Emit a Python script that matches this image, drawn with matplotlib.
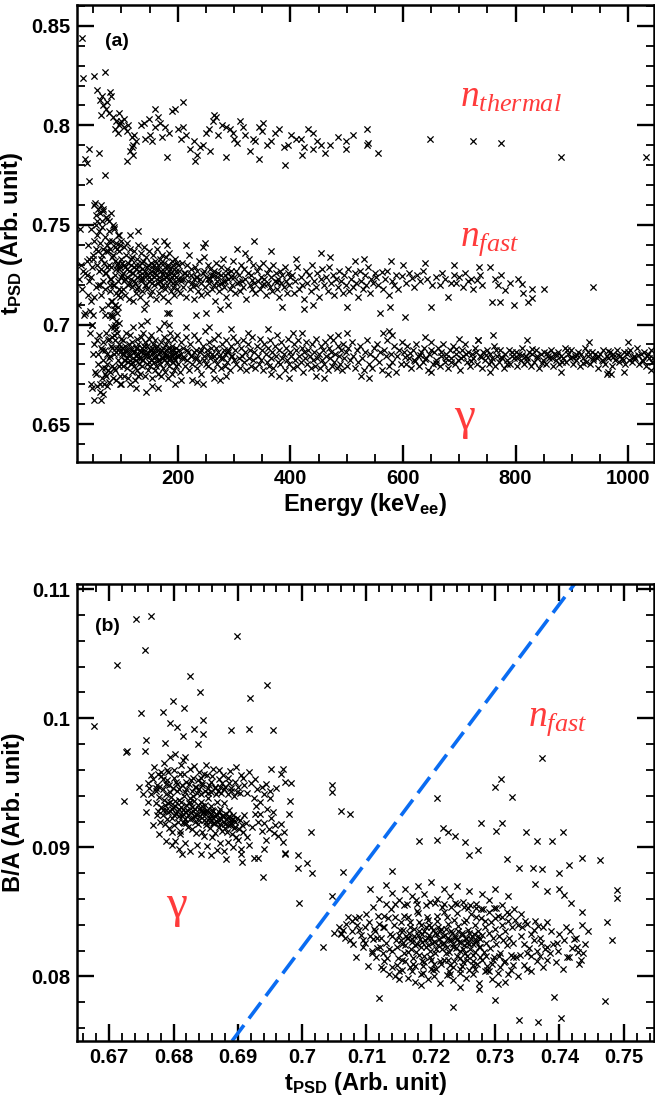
import numpy as np
import matplotlib
matplotlib.use("Agg")
import matplotlib.pyplot as plt
from matplotlib.ticker import MultipleLocator, FuncFormatter

# ---------------- panel (a): energy [keV], tPSD [1e-4] ----------------
thermal = [
    (30,8440),(32,8240),(51,8250),(71,8270),(42,7720),(71,7750),(42,7880),(60,7860),(36,7830),(38,7810),
    (57,8180),(66,8150),(80,8170),(62,8130),(75,8120),(68,8100),(72,8080),(78,8060),(85,8040),(90,8020),
    (64,8050),(82,8150),(88,7980),(95,8000),(98,8010),(100,8020),(93,7960),(104,7990),(109,7970),(112,8000),
    (105,8030),(96,8060),(118,7940),(122,7950),(115,7870),(120,7900),(125,7920),(110,7820),(121,7850),(119,7890),
    (135,8000),(140,8010),(148,8030),(142,7930),(150,7950),(155,7920),(160,7990),(165,8040),(168,8010),(172,7940),
    (178,7990),(185,7960),(190,8070),(195,8080),(200,7980),(205,7930),(210,7990),(215,7950),(222,7880),(228,7920),
    (235,7850),(240,7890),(245,7900),(250,7960),(255,7980),(262,8020),(268,8040),(272,7950),(278,8000),(285,7990),
    (292,7980),(298,7960),(180,7840),(230,7820),(258,7870),(300,7930),(305,7910),(160,8080),(210,8120),(265,8050),
    (310,8020),(315,7990),(320,7950),(328,7870),(333,7930),(338,7920),(345,7990),(352,8010),(358,7900),(365,7920),
    (372,7960),(380,7980),(388,7890),(395,7900),(402,7950),(410,7930),(418,7930),(425,7890),(432,7980),(440,7880),
    (448,7920),(455,7900),(462,7860),(470,7900),(345,7830),(390,7800),(420,7850),(350,7970),(285,7840),(440,7960),
    (499,7920),(499,7880),(536,7980),(536,7900),(538,7910),(555,7860),(648,7930),(724,7920),(774,7910),(880,7840),
    (1031,7840),(512,7950),(485,7940),
]

fast = [
    (22,7100),(25,7230),(28,7300),(30,7180),(33,7050),(35,7260),(38,7320),(40,7150),(41,7400),(43,7220),
    (44,7070),(46,7480),(47,7290),(49,7350),(50,7050),(51,7600),(52,7420),(53,7610),(54,7190),(55,7550),
    (56,7300),(57,7450),(58,7580),(59,7370),(60,7270),(45,7120),(48,7000),(52,7140),(55,7380),(58,7200),
    (36,7060),(42,7330),(39,7250),(27,7480),(31,7270),(54,7500),(57,7520),(60,7470),(46,7240),(50,7330),
    (61,7560),(62,7410),(63,7280),(64,7150),(65,7350),(66,7490),(67,7220),(68,7570),(69,7310),(70,7440),
    (71,7180),(72,7370),(73,7260),(74,7530),(75,7400),(76,7100),(77,7300),(78,7470),(79,7230),(80,7380),
    (81,7560),(82,7290),(83,7120),(84,7420),(85,7350),(86,7200),(87,7490),(88,7320),(89,7250),(90,7410),
    (91,7160),(92,7300),(93,7450),(94,7220),(95,7370),(96,7280),(97,7140),(98,7400),(99,7330),(100,7240),
    (62,7200),(65,7520),(68,7380),(71,7050),(74,7290),(77,7420),(80,7200),(83,7340),(86,7480),(89,7100),
    (92,7380),(95,7180),(98,7290),(64,7330),(70,7260),(76,7370),(82,7230),(88,7390),(94,7310),(100,7420),
    (63,7600),(67,7580),(72,7540),(78,7520),(85,7500),(90,7280),(96,7450),(99,7170),(66,7080),(84,7050),
    (101,7310),(102,7180),(103,7260),(104,7390),(105,7220),(106,7290),(107,7150),(108,7350),(109,7240),(110,7410),
    (111,7200),(112,7310),(113,7270),(114,7130),(115,7380),(116,7230),(117,7300),(118,7190),(119,7340),(120,7260),
    (121,7120),(122,7290),(123,7370),(124,7210),(125,7280),(126,7160),(127,7330),(128,7240),(129,7400),(130,7190),
    (131,7300),(132,7250),(133,7140),(134,7360),(135,7220),(136,7280),(137,7170),(138,7320),(139,7230),(140,7390),
    (141,7200),(142,7270),(143,7110),(144,7340),(145,7250),(146,7180),(147,7300),(148,7220),(149,7370),(150,7260),
    (151,7150),(152,7310),(153,7230),(154,7290),(155,7170),(156,7350),(157,7240),(158,7200),(159,7320),(160,7260),
    (161,7130),(162,7280),(163,7380),(164,7210),(165,7300),(166,7240),(167,7160),(168,7330),(169,7220),(170,7270),
    (171,7190),(172,7350),(173,7250),(174,7140),(175,7310),(176,7230),(177,7290),(178,7180),(179,7340),(180,7250),
    (181,7200),(182,7300),(183,7120),(184,7270),(185,7360),(186,7220),(187,7280),(188,7170),(189,7320),(190,7240),
    (191,7190),(192,7300),(193,7250),(194,7150),(195,7330),(196,7210),(197,7270),(198,7180),(199,7310),(200,7230),
    (115,7450),(140,7080),(160,7420),(185,7060),(130,7470),(175,7420),(180,7400),(248,7410),(181,7060),(232,7050),
    (202,7270),(204,7160),(206,7230),(208,7310),(210,7190),(212,7260),(214,7140),(216,7300),(218,7220),(220,7350),
    (222,7180),(224,7250),(226,7210),(228,7130),(230,7290),(232,7200),(234,7270),(236,7170),(238,7320),(240,7230),
    (242,7150),(244,7260),(246,7340),(248,7190),(250,7240),(252,7160),(254,7300),(256,7210),(258,7280),(260,7180),
    (262,7250),(264,7200),(266,7120),(268,7310),(270,7220),(272,7260),(274,7170),(276,7290),(278,7210),(280,7330),
    (282,7190),(284,7250),(286,7140),(288,7280),(290,7230),(292,7180),(294,7270),(296,7200),(298,7320),(300,7240),
    (302,7160),(304,7270),(306,7210),(308,7250),(310,7170),(312,7300),(314,7220),(316,7190),(318,7280),(320,7230),
    (322,7130),(324,7260),(326,7330),(328,7200),(330,7250),(332,7180),(334,7300),(336,7210),(338,7160),(340,7270),
    (342,7220),(344,7290),(346,7180),(348,7240),(350,7200),(352,7310),(354,7230),(356,7150),(358,7260),(360,7210),
    (362,7280),(364,7190),(366,7240),(368,7170),(370,7300),(372,7220),(374,7260),(376,7180),(378,7230),(380,7140),
    (382,7270),(384,7210),(386,7250),(388,7190),(390,7290),(392,7220),(394,7160),(396,7260),(398,7200),(400,7240),
    (215,7400),(245,7390),(275,7080),(305,7380),(335,7420),(250,7060),(365,7370),(290,7100),(320,7360),(385,7090),
    (210,7230),(233,7240),(257,7230),(281,7220),(309,7215),(331,7225),(353,7205),(377,7215),(227,7195),(269,7240),
    (403,7250),(406,7160),(409,7220),(412,7290),(415,7180),(418,7240),(421,7200),(424,7130),(427,7270),(430,7210),
    (433,7250),(436,7170),(439,7300),(442,7220),(445,7190),(448,7260),(451,7140),(454,7230),(457,7280),(460,7200),
    (463,7240),(466,7170),(469,7290),(472,7210),(475,7250),(478,7150),(481,7230),(484,7190),(487,7270),(490,7220),
    (493,7160),(496,7250),(499,7200),(502,7280),(505,7170),(508,7230),(511,7190),(514,7260),(517,7210),(520,7140),
    (523,7270),(526,7220),(529,7180),(532,7250),(535,7200),(538,7290),(541,7160),(544,7230),(547,7210),(550,7260),
    (410,7330),(440,7100),(470,7340),(500,7090),(530,7330),(455,7360),(425,7080),(515,7320),
    (553,7240),(556,7200),(560,7056),(562,7263),(565,7180),(568,7230),(572,7270),(575,7150),(577,7087),(580,7220),
    (584,7200),(588,7250),(592,7180),(598,7243),(603,7036),(606,7210),(610,7260),(616,7233),(620,7190),(625,7250),
    (630,7220),(636,7270),(642,7230),(649,7087),(652,7200),(658,7240),(665,7197),(670,7260),(675,7230),(680,7137),
    (686,7210),(690,7250),(695,7207),(700,7240),(706,7190),(710,7260),(715,7217),(720,7230),(725,7180),(731,7222),
    (736,7250),(741,7200),(754,7288),(758,7112),(763,7230),(768,7200),(772,7112),(775,7250),(781,7172),(790,7210),
    (797,7100),(805,7230),(811,7202),(813,7157),(823,7112),(829,7180),(830,7132),(850,7180),(937,7187),(600,7300),
    (640,7310),(690,7300),(735,7290),(578,7320),
    (101,7250),(104,7300),(107,7230),(110,7280),(113,7210),(116,7330),(119,7260),(122,7220),(125,7300),(128,7180),
    (131,7270),(134,7230),(137,7310),(140,7250),(143,7200),(146,7290),(149,7240),(152,7270),(155,7210),(158,7300),
    (161,7250),(164,7280),(167,7220),(170,7310),(173,7200),(176,7270),(179,7240),(182,7290),(185,7230),(188,7260),
    (191,7210),(194,7280),(197,7240),(200,7300),(205,7220),(211,7260),(217,7250),(223,7280),(229,7230),(235,7240),
    (241,7210),(247,7270),(253,7230),(259,7250),(265,7270),(271,7200),(277,7250),(283,7220),(289,7260),(295,7240),
]

gamma_a = [
    (44,6960),(45,6700),(47,7000),(48,6680),(50,6850),(51,6620),(52,6900),(53,6760),(55,6750),(56,6920),
    (57,6690),(58,6850),(59,6800),(60,6950),(62,6700),(63,6880),(64,6620),(65,6780),(66,6730),(67,6910),
    (68,6820),(69,6700),(70,6870),(71,6780),(72,6960),(73,6740),(74,6850),(75,6800),(76,6920),(77,6710),
    (78,6830),(79,7050),(80,6760),(81,6890),(82,7120),(83,6790),(84,6940),(85,6730),(86,7080),(87,6850),
    (88,6770),(89,7000),(90,6880),(91,6720),(92,6960),(93,6820),(94,7150),(95,6790),(96,6900),(97,6740),
    (98,6860),(99,6800),(100,6930),(82,6990),(84,7040),(86,6990),(88,7100),(90,7020),(92,7060),(80,7170),
    (85,7200),(87,6950),(89,6920),(91,6980),(93,7090),(95,7010),(97,6700),(74,6690),(66,6870),(70,6750),
    (76,6770),(78,6930),(80,6840),(83,6880),(87,6780),(91,6860),(95,6880),(99,6700),(61,6660),(68,6650),
    (101,6880),(102,6790),(103,6920),(104,6850),(105,6740),(106,6890),(107,6820),(108,6960),(109,6780),(110,6870),
    (111,6810),(112,6730),(113,6900),(114,6840),(115,6950),(116,6800),(117,6870),(118,6760),(119,6910),(120,6830),
    (121,6990),(122,6790),(123,6860),(124,6720),(125,6880),(126,6820),(127,6930),(128,6770),(129,6850),(130,6900),
    (131,6800),(132,6870),(133,6750),(134,6940),(135,6830),(136,6880),(137,6790),(138,6960),(139,6820),(140,6860),
    (141,6740),(142,6910),(143,6660),(144,6850),(145,6800),(146,6890),(147,6770),(148,6930),(149,6840),(150,6870),
    (151,6790),(152,6950),(153,6820),(154,6880),(155,6730),(156,6900),(157,6810),(158,6860),(159,6770),(160,6920),
    (161,6840),(162,6790),(163,6890),(164,6750),(165,6870),(166,6820),(167,6980),(168,6800),(169,6860),(170,6740),
    (171,6910),(172,6830),(173,6880),(174,6780),(175,6940),(176,6820),(177,6850),(178,6760),(179,6900),(180,6810),
    (181,6870),(182,6730),(183,6920),(184,6840),(185,6790),(186,6960),(187,6830),(188,6870),(189,6750),(190,6890),
    (191,6810),(192,6850),(193,6770),(194,6930),(195,6820),(196,6880),(197,6790),(198,6950),(199,6840),(200,6800),
    (202,6870),(204,6760),(206,6910),(208,6830),(210,6880),(212,6790),(214,6940),(216,6820),(218,6860),(220,6770),
    (222,6900),(224,6840),(226,6800),(228,6950),(230,6830),(232,6870),(234,6780),(236,6920),(238,6810),(240,6860),
    (242,6750),(244,6890),(246,6840),(248,6970),(250,6800),(252,6870),(254,6790),(256,6910),(258,6830),(260,6850),
    (262,6770),(264,6930),(266,6820),(268,6880),(270,6800),(272,6950),(274,6840),(276,6780),(278,6900),(280,6830),
    (282,6870),(284,6790),(286,6920),(288,6810),(290,6860),(292,6770),(294,6890),(296,6840),(298,6940),(300,6820),
    (115,6700),(135,7000),(155,6690),(175,7010),(195,6700),(215,6990),(235,6710),(255,6990),(275,6720),(295,6980),
    (125,6680),(145,7020),(165,6680),(185,7000),(205,6720),(225,6720),(245,6700),(265,6730),(285,6740),(130,6740),
    (101,6850),(104,6820),(107,6870),(110,6830),(113,6850),(116,6880),(119,6810),(122,6860),(125,6840),(128,6880),
    (131,6830),(134,6860),(137,6820),(140,6890),(143,6840),(146,6860),(149,6810),(152,6870),(155,6850),(158,6830),
    (161,6880),(164,6820),(167,6850),(170,6870),(173,6830),(176,6860),(179,6840),(182,6880),(185,6820),(188,6850),
    (191,6870),(194,6830),(197,6860),(200,6840),(205,6850),(211,6830),(217,6870),(223,6840),(229,6860),(235,6830),
    (241,6870),(247,6820),(253,6850),(259,6880),(265,6840),(271,6860),(277,6830),(283,6850),(289,6870),(295,6840),
    (302,6870),(304,6800),(306,6910),(308,6830),(310,6780),(312,6880),(314,6840),(316,6920),(318,6810),(320,6860),
    (322,6770),(324,6900),(326,6830),(328,6870),(330,6790),(332,6940),(334,6820),(336,6860),(338,6780),(340,6890),
    (342,6840),(344,6800),(346,6930),(348,6820),(350,6870),(352,6770),(354,6900),(356,6850),(358,6810),(360,6880),
    (362,6790),(364,6920),(366,6830),(368,6860),(370,6780),(372,6890),(374,6840),(376,6950),(378,6810),(380,6870),
    (382,6800),(384,6910),(386,6830),(388,6850),(390,6770),(392,6880),(394,6820),(396,6930),(398,6800),(400,6860),
    (402,6840),(404,6780),(406,6900),(408,6820),(410,6870),(412,6790),(414,6920),(416,6840),(418,6810),(420,6880),
    (422,6760),(424,6860),(426,6830),(428,6910),(430,6800),(432,6870),(434,6840),(436,6780),(438,6900),(440,6820),
    (442,6860),(444,6790),(446,6930),(448,6830),(450,6850),(452,6780),(454,6890),(456,6820),(458,6870),(460,6800),
    (462,6910),(464,6840),(466,6770),(468,6880),(470,6830),(472,6860),(474,6790),(476,6920),(478,6810),(480,6850),
    (482,6780),(484,6890),(486,6840),(488,6800),(490,6870),(492,6770),(494,6900),(496,6830),(498,6860),(500,6790),
    (503,6880),(506,6820),(509,6910),(512,6840),(515,6780),(518,6870),(521,6810),(524,6890),(527,6830),(530,6770),
    (533,6860),(536,6920),(539,6800),(542,6850),(545,6780),(548,6880),(551,6830),(554,6900),(557,6810),(560,6860),
    (563,6770),(566,6870),(569,6840),(572,6920),(575,6790),(578,6850),(581,6810),(584,6890),(587,6760),(590,6840),
    (593,6870),(596,6800),(599,6910),(325,6960),(365,6750),(405,6960),(445,6740),(485,6950),(525,6740),(565,6960),
    (380,6740),(420,6960),(460,6730),(500,6960),(540,6730),(580,6950),(470,6940),(360,6980),(397,6730),(575,6970),
    (602,6860),(605,6800),(608,6890),(611,6830),(614,6780),(617,6870),(620,6820),(623,6900),(626,6840),(629,6790),
    (632,6860),(635,6810),(638,6880),(641,6830),(644,6770),(647,6850),(650,6910),(653,6800),(656,6860),(659,6820),
    (662,6880),(665,6790),(668,6840),(671,6900),(674,6810),(677,6850),(680,6780),(683,6870),(686,6830),(689,6890),
    (692,6800),(695,6850),(698,6820),(701,6770),(704,6870),(707,6840),(710,6900),(713,6810),(716,6860),(719,6790),
    (722,6850),(725,6830),(728,6880),(731,6800),(734,6920),(737,6840),(740,6780),(743,6860),(746,6820),(749,6870),
    (752,6800),(755,6850),(758,6830),(761,6890),(764,6790),(767,6840),(770,6810),(773,6870),(776,6830),(779,6780),
    (782,6850),(785,6820),(788,6870),(791,6800),(794,6840),(797,6830),(800,6860),(803,6790),(806,6850),(809,6820),
    (812,6880),(815,6800),(818,6840),(821,6830),(824,6860),(827,6790),(830,6850),(833,6810),(836,6870),(839,6830),
    (842,6780),(845,6850),(848,6820),(851,6860),(854,6800),(857,6840),(860,6830),(863,6870),(866,6790),(869,6850),
    (872,6820),(875,6860),(878,6800),(881,6840),(884,6830),(887,6880),(890,6810),(893,6850),(896,6830),(899,6870),
    (902,6800),(905,6840),(908,6820),(911,6860),(914,6790),(917,6850),(920,6830),(923,6880),(926,6810),(929,6840),
    (932,6800),(935,6860),(938,6820),(941,6850),(944,6830),(947,6780),(950,6850),(953,6820),(956,6870),(959,6800),
    (962,6840),(965,6830),(968,6860),(971,6790),(974,6850),(977,6820),(980,6870),(983,6810),(986,6840),(989,6830),
    (992,6860),(995,6800),(998,6850),(1001,6820),(1004,6870),(1007,6810),(1010,6840),(1013,6830),(1016,6880),(1019,6800),
    (1022,6850),(1025,6820),(1028,6860),(1031,6790),(1034,6840),(1037,6830),(1040,6870),(1043,6810),
    (604,6835),(613,6855),(622,6815),(631,6845),(640,6825),(649,6870),(658,6805),(667,6860),(676,6830),(685,6810),
    (694,6875),(703,6830),(712,6850),(721,6815),(730,6860),(739,6835),(748,6845),(757,6815),(766,6870),(775,6835),
    (784,6800),(793,6860),(802,6830),(811,6845),(820,6815),(829,6875),(838,6840),(847,6805),(856,6855),(865,6830),
    (874,6845),(883,6810),(892,6870),(901,6835),(910,6845),(919,6805),(928,6860),(937,6830),(946,6840),(955,6815),
    (964,6865),(973,6835),(982,6845),(991,6820),(1000,6860),(1009,6830),(1018,6845),(1027,6815),(1036,6850),(1045,6830),
    (733,6920),(573,6750),(650,6760),(700,6930),(755,6760),(820,6920),(880,6760),(930,6910),(965,6760),(1000,6910),
    (970,6750),(1040,6770),(760,6950),(640,6940),(963,6754),(992,6760),
]

# ---------------- panel (b): tPSD [1e-4], B/A [1e-5] ----------------
gamma_b = [
    (6742,10770),(6765,10790),(6756,10530),(6712,10410),(6898,10640),(6826,10330),(6841,10200),(6945,10260),
    (6919,10160),(6677,9940),(6750,10040),(6784,10050),(6799,10130),(6816,10080),(6726,9740),(6757,9830),
    (6889,9910),(6917,9920),(6954,9910),(6723,9360),(6728,9750),(6755,9750),(6747,9470),(6795,9960),(6805,9930),
    (6787,9810),(6815,9860),(6838,9800),(6846,9990),(6846,9880),(6818,9700),(6832,9920),
    (6951,9610),(6970,9610),(6967,9570),(6974,9510),(6982,9500),(6959,9460),(6981,9360),(6979,9260),(6967,9180),
    (6971,9120),(7013,9120),(6956,9110),(6970,9040),(6973,8960),(6813,8950),(6881,8910),(6906,8890),(6925,8920),
    (6932,8920),(6940,8990),(6905,8950),(6867,8980),(6939,8770),
    (6781,9310),(6783,9250),(6785,9370),(6786,9180),(6788,9290),(6789,9410),(6790,9220),(6792,9340),(6793,9150),(6795,9280),
    (6796,9390),(6798,9230),(6799,9310),(6801,9170),(6802,9360),(6804,9260),(6805,9440),(6807,9200),(6808,9300),(6810,9130),
    (6811,9350),(6813,9240),(6814,9290),(6816,9190),(6817,9400),(6819,9270),(6820,9330),(6822,9160),(6823,9250),(6825,9380),
    (6826,9220),(6828,9310),(6829,9140),(6831,9280),(6832,9360),(6834,9200),(6835,9260),(6837,9420),(6838,9180),(6840,9300),
    (6841,9240),(6843,9350),(6844,9120),(6846,9270),(6847,9210),(6849,9330),(6850,9170),(6852,9290),(6853,9380),(6855,9230),
    (6856,9150),(6858,9260),(6859,9320),(6861,9190),(6862,9280),(6864,9110),(6865,9240),(6867,9350),(6868,9200),(6870,9270),
    (6871,9160),(6873,9300),(6874,9220),(6876,9130),(6877,9250),(6879,9340),(6880,9180),(6882,9260),(6883,9120),(6885,9230),
    (6886,9290),(6888,9170),(6889,9210),(6891,9100),(6892,9250),(6894,9150),(6895,9200),(6897,9080),(6899,9230),(6902,9140),
    (6784,9290),(6787,9330),(6791,9270),(6794,9350),(6797,9300),(6800,9250),(6803,9320),(6806,9280),(6809,9240),(6812,9310),
    (6815,9260),(6818,9220),(6821,9290),(6824,9340),(6827,9270),(6830,9230),(6833,9300),(6836,9250),(6839,9210),(6842,9280),
    (6845,9320),(6848,9240),(6851,9200),(6854,9270),(6857,9230),(6860,9290),(6863,9190),(6866,9260),(6869,9220),(6872,9180),
    (6875,9240),(6878,9200),(6881,9220),(6884,9170),(6887,9240),(6890,9190),(6893,9220),(6896,9160),(6814,9200),(6826,9350),
    (6838,9330),(6850,9270),(6862,9230),(6808,9370),(6820,9190),(6832,9240),(6844,9290),(6856,9200),(6868,9250),(6880,9150),
    (6818,9430),(6830,9400),(6842,9410),(6854,9420),(6866,9410),(6798,9120),(6810,9100),(6835,9110),(6848,9090),(6860,9080),
    (6776,9280),(6772,9340),(6779,9200),(6774,9250),(6777,9390),(6904,9210),(6907,9170),(6910,9250),(6908,9120),(6912,9190),
    (6772,9440),(6778,9470),(6784,9450),(6789,9490),(6794,9430),(6799,9460),(6804,9510),(6809,9450),(6813,9480),(6819,9450),
    (6824,9490),(6829,9440),(6833,9470),(6839,9450),(6844,9480),(6849,9440),(6854,9460),(6859,9430),(6864,9470),(6869,9440),
    (6874,9420),(6879,9450),(6884,9410),(6889,9440),(6894,9400),(6899,9430),(6781,9550),(6792,9580),(6801,9540),(6817,9570),
    (6827,9520),(6843,9540),(6858,9510),(6873,9470),(6887,9500),(6903,9420),
    (6760,9500),(6765,9560),(6770,9620),(6775,9480),(6780,9580),(6785,9650),(6790,9520),(6795,9700),(6800,9600),(6805,9490),
    (6810,9570),(6815,9680),(6820,9510),(6825,9610),(6830,9540),(6835,9470),(6840,9580),(6845,9500),(6850,9640),(6855,9480),
    (6860,9550),(6865,9460),(6870,9600),(6875,9500),(6880,9470),(6885,9540),(6890,9460),(6895,9510),(6900,9470),(6905,9560),
    (6910,9480),(6915,9420),(6920,9500),(6925,9380),(6930,9450),(6935,9350),(6940,9410),(6945,9300),(6950,9380),(6955,9270),
    (6760,9350),(6765,9410),(6768,9170),(6773,9460),(6778,9100),(6783,9530),(6788,9050),(6793,9480),(6797,9020),(6803,9050),
    (6808,8990),(6818,9030),(6825,8970),(6836,9020),(6843,8950),(6852,9010),(6858,8940),(6872,9030),(6878,8970),(6885,9040),
    (6893,9000),(6900,9060),(6905,8990),(6915,9080),(6918,9020),(6922,9160),(6926,9260),(6932,9200),(6938,9130),(6944,9060),
    (6928,9320),(6934,9260),(6941,9190),(6948,9140),(6952,9230),(6957,9170),(6962,9090),(6790,9600),(6812,9640),(6832,9630),
    (6852,9560),(6870,9530),(6888,9590),(6908,9540),(6753,9410),(6758,9270),(6762,9460),(6768,9530),(6776,9570),(6803,9720),
    (6838,9520),(6848,9570),(6862,9610),(6877,9560),(6897,9620),(6918,9580),(6927,9530),(6937,9470),(6944,9490),(6950,9440),
    (6993,8840),(7007,8880),(7016,8800),(6974,8950),(6993,8940),(6995,8570),(7032,8230),
]

fast_b = [
    (7046,9480),(7046,9430),(7061,9280),(7075,9260),(7064,8810),(7046,8620),(7050,8340),(7060,8330),(7063,8360),
    (7078,8350),(7078,8430),(7089,8460),(7094,8280),(7102,8080),(7119,7830),(7108,8180),(7123,8070),(7105,8680),
    (7131,8710),(7140,8820),(7150,8040),(7150,7980),(7182,9050),(7210,9380),(7210,9060),(7219,9150),(7226,9120),
    (7238,9090),(7253,9040),(7260,8940),(7274,8980),(7278,9190),(7301,9130),(7311,9190),(7300,9470),(7309,9530),
    (7326,9390),(7348,9120),(7365,9050),(7388,9050),(7405,9120),(7319,8910),(7337,8840),(7359,8840),(7373,8830),
    (7399,8800),(7415,8860),(7435,8920),(7463,8900),(7362,8720),(7380,8660),(7400,8680),(7407,8630),(7418,8570),
    (7435,8500),(7435,8400),(7474,8420),(7481,8280),(7489,8670),(7489,8610),(7422,8290),(7412,8150),(7429,8190),
    (7433,8130),(7396,8260),(7380,8130),(7391,7840),(7402,7680),(7471,7810),(7337,7660),(7367,7650),(7300,7820),
    (7235,7760),(7373,9690),
    (7110,8290),(7113,8350),(7116,8220),(7119,8410),(7122,8300),(7125,8180),(7128,8380),(7131,8260),(7134,8450),(7137,8330),
    (7140,8200),(7143,8400),(7146,8280),(7149,8140),(7152,8360),(7155,8250),(7158,8470),(7161,8310),(7164,8190),(7167,8420),
    (7170,8290),(7172,8100),(7174,8370),(7176,8240),(7178,8510),(7180,8320),(7182,8170),(7184,8400),(7186,8270),(7188,8080),
    (7190,8350),(7192,8230),(7194,8460),(7196,8300),(7198,8150),(7200,8380),(7202,8260),(7204,8050),(7206,8340),(7208,8210),
    (7210,8430),(7212,8290),(7214,8120),(7216,8370),(7218,8250),(7220,8500),(7222,8320),(7224,8180),(7226,8410),(7228,8280),
    (7230,8090),(7232,8350),(7234,8230),(7236,8440),(7238,8300),(7240,8160),(7242,8390),(7244,8270),(7246,8060),(7248,8340),
    (7250,8210),(7252,8420),(7254,8290),(7256,8130),(7258,8360),(7260,8250),(7262,8480),(7264,8310),(7266,8170),(7268,8400),
    (7270,8280),(7272,8100),(7274,8350),(7276,8230),(7278,8450),(7280,8320),(7282,8190),(7284,8380),(7286,8260),(7288,8080),
    (7290,8340),(7292,8220),(7294,8420),(7296,8300),(7298,8150),(7300,8370),(7302,8250),(7304,8470),(7306,8310),(7308,8180),
    (7310,8400),(7312,8280),(7314,8110),(7316,8350),(7318,8240),(7320,8430),(7322,8300),(7324,8170),(7326,8380),(7328,8260),
    (7150,8320),(7153,8280),(7157,8360),(7160,8240),(7163,8300),(7166,8340),(7169,8210),(7171,8270),(7174,8310),(7177,8190),
    (7179,8250),(7181,8350),(7183,8290),(7185,8230),(7187,8330),(7189,8160),(7191,8280),(7193,8380),(7195,8240),(7197,8320),
    (7199,8200),(7201,8300),(7203,8360),(7205,8270),(7207,8180),(7209,8330),(7211,8240),(7213,8290),(7215,8350),(7217,8210),
    (7219,8310),(7221,8260),(7223,8370),(7225,8230),(7227,8300),(7229,8190),(7231,8280),(7233,8340),(7235,8250),(7237,8310),
    (7239,8220),(7241,8290),(7243,8350),(7245,8200),(7247,8270),(7249,8320),(7251,8240),(7253,8180),(7255,8300),(7257,8260),
    (7259,8340),(7261,8210),(7263,8290),(7265,8250),(7267,8330),(7269,8190),(7271,8270),(7273,8310),(7275,8230),(7277,8290),
    (7160,8120),(7175,8080),(7190,8110),(7205,8100),(7220,8130),(7235,8070),(7250,8110),(7265,8090),(7280,8130),(7295,8100),
    (7165,8460),(7180,8490),(7195,8440),(7210,8470),(7225,8460),(7240,8490),(7255,8440),(7270,8460),(7285,8430),(7300,8450),
    (7060,8340),(7068,8410),(7075,8280),(7082,8450),(7088,8360),(7094,8230),(7100,8480),(7105,8310),(7110,8540),(7115,8150),
    (7120,8600),(7125,8060),(7130,8560),(7135,8020),(7140,8650),(7145,8000),(7150,8590),(7155,8050),(7160,8680),(7165,7990),
    (7170,8620),(7175,7960),(7180,8700),(7185,8020),(7190,8640),(7195,7980),(7200,8730),(7205,8000),(7210,8600),(7215,7950),
    (7220,8680),(7225,8010),(7230,8620),(7235,7970),(7240,8700),(7245,8030),(7250,8580),(7255,7990),(7260,8660),(7265,8020),
    (7270,8560),(7275,7950),(7280,8640),(7285,8040),(7290,8590),(7295,7980),(7300,8680),(7305,8030),(7310,8550),(7315,7960),
    (7320,8620),(7325,8050),(7330,8520),(7335,8000),(7340,8480),(7345,8090),(7350,8410),(7355,8040),(7360,8360),(7365,8120),
    (7370,8300),(7375,8070),(7380,8420),(7385,8180),(7390,8250),(7395,8110),(7400,8330),(7405,8060),(7410,8380),(7415,8150),
    (7420,8220),(7425,8300),(7430,8100),(7440,8250),(7445,8350),(7335,8400),(7345,8250),(7355,8330),(7365,8200),(7375,8380),
    (7340,8310),(7350,8180),(7360,8280),(7370,8160),(7380,8230),(7332,8150),(7342,8380),(7352,8220),(7362,8430),(7372,8260),
    (7083,8150),(7097,8380),(7108,8200),(7118,8470),(7128,8120),(7138,8520),(7148,8090),(7158,8550),(7168,8070),(7178,8560),
    (7188,8030),(7198,8580),(7208,8060),(7218,8540),(7228,8040),(7238,8570),(7248,8080),(7258,8530),(7268,8060),(7278,8520),
    (7288,8050),(7298,8530),(7308,8070),(7318,8500),(7328,8090),(7125,8380),(7135,8210),(7145,8460),(7155,8130),(7165,8300),
    (7058,8380),(7066,8300),(7072,8460),(7079,8250),(7086,8400),(7092,8320),(7098,8260),(7104,8420),(7112,8370),(7117,8300),
    (7121,8230),(7127,8470),(7132,8140),(7139,8310),(7144,8560),(7148,8230),(7154,8420),(7159,8180),(7163,8560),(7168,8380),
    (7173,8140),(7177,8590),(7182,8420),(7186,8120),(7192,8550),(7197,8400),(7201,8130),(7206,8570),(7211,8380),(7216,8100),
    (7221,8560),(7226,8130),(7231,8540),(7236,8120),(7241,8560),(7246,8140),(7251,8540),(7256,8160),(7261,8550),(7266,8120),
    (7271,8530),(7276,8150),(7281,8520),(7286,8160),(7291,8500),(7296,8130),(7301,8530),(7306,8160),(7311,8460),(7316,8120),
    (7321,8480),(7327,8150),(7331,8440),(7338,8170),(7346,8430),(7356,8160),(7366,8390),(7377,8210),(7387,8350),(7397,8200),
    (7407,8280),(7417,8350),(7427,8230),(7437,8180),
    (7140,8070),(7170,8040),(7200,8060),(7230,8020),(7260,8050),(7290,8040),(7320,8020),(7350,8060),(7185,7930),(7245,7920),
    (7305,7940),(7275,7900),
]

# separation cut in panel (b)
cut_x = [0.6891, 0.7425]
cut_y = [0.0750, 0.1105]

RED = "#ff3b3b"
BLUE = "#0a6cf2"

plt.rcParams["font.family"] = ["Liberation Sans", "DejaVu Sans"]
plt.rcParams["font.weight"] = "bold"
plt.rcParams["mathtext.fontset"] = "custom"
plt.rcParams["mathtext.it"] = "Liberation Serif:style=italic:weight=normal"
plt.rcParams["mathtext.rm"] = "Liberation Sans:weight=bold"
plt.rcParams["mathtext.bf"] = "Liberation Sans:weight=bold"


def xy(points, sx, sy):
    a = np.array(points, dtype=float)
    return a[:, 0] * sx, a[:, 1] * sy


def style_axes(ax):
    for sp in ax.spines.values():
        sp.set_linewidth(1.8)
    ax.tick_params(which="both", direction="in", top=True, right=True,
                   labelsize=14.5, pad=5)
    ax.tick_params(which="major", length=12, width=1.7)
    ax.tick_params(which="minor", length=6, width=1.3)
    fmt = FuncFormatter(lambda v, p: "%g" % round(v, 4))
    ax.xaxis.set_major_formatter(fmt)
    ax.yaxis.set_major_formatter(fmt)


fig = plt.figure(figsize=(6.55, 10.95), dpi=100)
ax1 = fig.add_axes([0.1176, 0.5781, 0.8809, 0.4174])
ax2 = fig.add_axes([0.1176, 0.0493, 0.8809, 0.4174])

mk = dict(marker="x", s=20, color="black", linewidths=0.9)

# panel (a)
for pts in (thermal, fast, gamma_a):
    ex, ey = xy(pts, 1.0, 1e-4)
    ax1.scatter(ex, ey, **mk)
ax1.set_xlim(21, 1046)
ax1.set_ylim(0.631, 0.8605)
ax1.xaxis.set_major_locator(MultipleLocator(200))
ax1.xaxis.set_minor_locator(MultipleLocator(50))
ax1.yaxis.set_major_locator(MultipleLocator(0.05))
ax1.yaxis.set_minor_locator(MultipleLocator(0.01))
style_axes(ax1)
ax1.set_xlabel(r"Energy (keV$_{\mathbf{ee}}$)", fontsize=17, fontweight="bold", labelpad=2)
ax1.set_ylabel(r"$\mathbf{t_{PSD}}$ (Arb. unit)", fontsize=17, fontweight="bold", labelpad=4)
ax1.text(71, 0.842, "(a)", fontsize=14, fontweight="bold", va="center")
ax1.text(701, 0.8093, r"$n_{thermal}$", color=RED, fontsize=27, fontweight="normal", va="baseline")
ax1.text(701, 0.7398, r"$n_{fast}$", color=RED, fontsize=27, fontweight="normal", va="baseline")
ax1.text(710, 0.6533, "γ", color=RED, fontsize=34, family="Liberation Serif",
         fontweight="normal", ha="center", va="center")

# panel (b)
for pts in (gamma_b, fast_b):
    tx, ty = xy(pts, 1e-4, 1e-5)
    ax2.scatter(tx, ty, **mk)
ax2.plot(cut_x, cut_y, color=BLUE, linewidth=2.6, linestyle=(0, (5.5, 2.3)))
ax2.set_xlim(0.665, 0.7547)
ax2.set_ylim(0.0750, 0.1104)
ax2.xaxis.set_major_locator(MultipleLocator(0.01))
ax2.xaxis.set_minor_locator(MultipleLocator(0.002))
ax2.yaxis.set_major_locator(MultipleLocator(0.01))
ax2.yaxis.set_minor_locator(MultipleLocator(0.002))
style_axes(ax2)
ax2.set_xlabel(r"$\mathbf{t_{PSD}}$ (Arb. unit)", fontsize=17, fontweight="bold", labelpad=2)
ax2.set_ylabel("B/A (Arb. unit)", fontsize=17, fontweight="bold", labelpad=4)
ax2.text(0.6678, 0.1071, "(b)", fontsize=14, fontweight="bold", va="center")
ax2.text(0.7351, 0.09946, r"$n_{fast}$", color=RED, fontsize=27, fontweight="normal", va="baseline")
ax2.text(0.6805, 0.0855, "γ", color=RED, fontsize=34, family="Liberation Serif",
         fontweight="normal", ha="center", va="center")

fig.savefig("out.png", dpi=100)
